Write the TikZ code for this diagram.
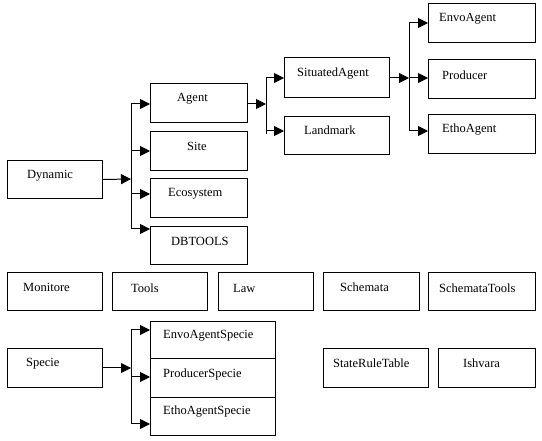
\documentclass[tikz,border=0pt]{standalone}
\usepackage{fontspec}
\setmainfont{Liberation Serif}
\usetikzlibrary{arrows.meta,calc}
\begin{document}
\begin{tikzpicture}[x=1pt,y=-1pt,
  box/.style={draw,line width=1pt,anchor=north west,inner sep=0pt},
  txt/.style={anchor=west,inner sep=0pt,yshift=-2pt,font=\fontsize{12.5}{14}\selectfont},
  arr/.style={line width=1pt,-{Triangle[length=10pt,width=10pt]}},
  ln/.style={line width=1pt}]
\useasboundingbox (0,0) rectangle (542,441);
% boxes
\node[box,minimum width=95pt,minimum height=38pt] (dyn) at (7,160) {};
\node[box,minimum width=97pt,minimum height=39pt] (agent) at (150,83) {};
\node[box,minimum width=97pt,minimum height=39pt] (site) at (150,131) {};
\node[box,minimum width=97pt,minimum height=39pt] (eco) at (150,178) {};
\node[box,minimum width=97pt,minimum height=38pt] (dbt) at (150,226) {};
\node[box,minimum width=105pt,minimum height=40pt] (sit) at (284,57) {};
\node[box,minimum width=105pt,minimum height=38pt] (land) at (284,116) {};
\node[box,minimum width=107pt,minimum height=39pt] (envo) at (428,3) {};
\node[box,minimum width=107pt,minimum height=39pt] (prod) at (428,59) {};
\node[box,minimum width=107pt,minimum height=39pt] (etho) at (428,114) {};
\node[box,minimum width=95pt,minimum height=38pt] (mon) at (7,272) {};
\node[box,minimum width=95pt,minimum height=38pt] (tools) at (112,272) {};
\node[box,minimum width=95pt,minimum height=38pt] (law) at (218,272) {};
\node[box,minimum width=96pt,minimum height=38pt] (sch) at (323,272) {};
\node[box,minimum width=107pt,minimum height=38pt] (scht) at (428,272) {};
\node[box,minimum width=95pt,minimum height=39pt] (spec) at (7,348) {};
\node[box,minimum width=125pt,minimum height=37pt] (envos) at (150,321) {};
\node[box,minimum width=125pt,minimum height=39pt] (prods) at (150,358) {};
\node[box,minimum width=125pt,minimum height=38pt] (ethos) at (150,397) {};
\node[box,minimum width=105pt,minimum height=39pt] (srt) at (323,348) {};
\node[box,minimum width=97pt,minimum height=39pt] (ish) at (438,348) {};
% texts
\node[txt] at (27,174) {Dynamic};
\node[txt] at (177,97) {Agent};
\node[txt] at (187,144) {Site};
\node[txt] at (168,192) {Ecosystem};
\node[txt] at (171,239) {DBTOOLS};
\node[txt] at (297,72) {SituatedAgent};
\node[txt] at (304,128) {Landmark};
\node[txt] at (439,17) {EnvoAgent};
\node[txt] at (442,73) {Producer};
\node[txt] at (442,128) {EthoAgent};
\node[txt] at (23,285) {Monitore};
\node[txt] at (131,286) {Tools};
\node[txt] at (233,286) {Law};
\node[txt] at (340,285) {Schemata};
\node[txt] at (439,286) {SchemataTools};
\node[txt] at (26,362) {Specie};
\node[txt] at (163,334) {EnvoAgentSpecie};
\node[txt] at (163,372) {ProducerSpecie};
\node[txt] at (163,410) {EthoAgentSpecie};
\node[txt] at (333,361) {StateRuleTable};
\node[txt] at (463,361) {Ishvara};
% bus points
\coordinate (b1) at (131,179);
\coordinate (b2) at (266,104);
\coordinate (b3) at (409,78);
\coordinate (b4) at (131,368);
% Dynamic tree
\draw[arr] (dyn.east) -- (b1);
\draw[ln] (131,104) -- (131,229);
\draw[arr] (131,104) -- (agent.west |- 0,104);
\draw[arr] (b1 |- site.west) -- (site.west);
\draw[arr] (131,194) -- (eco.west |- 0,194);
\draw[arr] (131,229) -- (dbt.west |- 0,229);
% Agent tree
\draw[arr] (agent.east |- b2) -- (b2);
\draw[ln] (266,78) -- (266,134);
\draw[arr] (266,78) -- (sit.west |- 0,78);
\draw[arr] (266,131) -- (land.west |- 0,131);
% SituatedAgent tree
\draw[arr] (sit.east |- b3) -- (b3);
\draw[ln] (409,23) -- (409,131);
\draw[arr] (409,23) -- (envo.west |- 0,23);
\draw[arr] (b3) -- (prod.west |- b3);
\draw[arr] (409,131) -- (etho.west |- 0,131);
% Specie tree
\draw[arr] (spec.east |- b4) -- (b4);
\draw[ln] (131,330) -- (131,424);
\draw[arr] (131,330) -- (envos.west |- 0,330);
\draw[arr] (131,377) -- (prods.west |- 0,377);
\draw[arr] (131,424) -- (ethos.west |- 0,424);
\end{tikzpicture}
\end{document}
